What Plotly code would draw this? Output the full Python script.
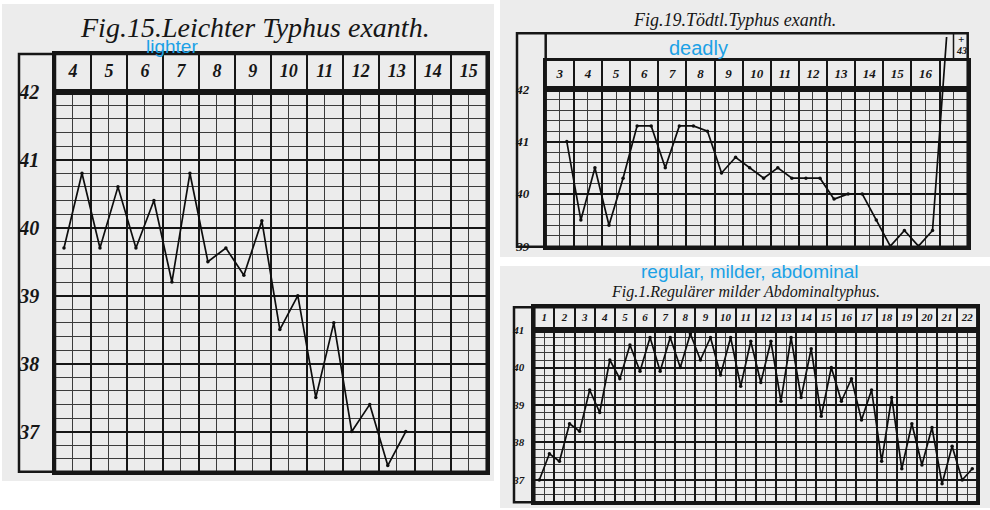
import plotly.graph_objects as go

W, H = 990, 510

# Fig. 15 - mild exanthematic typhus, readings morning/evening from day 4
f15_days = list(range(4, 16))
f15_temps = [39.7, 40.8, 39.7, 40.6, 39.7, 40.4, 39.2, 40.8, 39.5, 39.7,
             39.3, 40.1, 38.5, 39.0, 37.5, 38.6, 37.0, 37.4, 36.5, 37.0]
f15_ticks = [37, 38, 39, 40, 41, 42]

# Fig. 19 - fatal exanthematic typhus, from evening of day 3, ends at 43 (death)
# the grid has one unlabelled column after day 16
f19_days = list(range(3, 17))
f19_temps = [41.0, 39.5, 40.5, 39.4, 40.3, 41.3, 41.3, 40.5, 41.3, 41.3,
             41.2, 40.4, 40.7, 40.5, 40.3, 40.5, 40.3, 40.3, 40.3, 39.9,
             40.0, 40.0, 39.5, 39.0, 39.3, 39.0, 39.3, 43.0]
f19_ticks = [39, 40, 41, 42]

# Fig. 1 - regular mild abdominal typhus, days 1-22
f1_days = list(range(1, 23))
f1_temps = [37.0, 37.7, 37.5, 38.5, 38.3, 39.4, 38.8, 40.2, 39.7, 40.6,
            39.9, 40.8, 39.9, 40.8, 40.0, 40.9, 40.2, 40.8, 39.8, 40.8,
            39.5, 40.7, 39.6, 40.7, 39.1, 40.8, 39.2, 40.5, 38.7, 40.0,
            39.1, 39.7, 38.6, 39.4, 37.5, 39.2, 37.3, 38.5, 37.4, 38.4,
            36.9, 37.9, 37.0, 37.3]
f1_ticks = [37, 38, 39, 40, 41]

INK = "#161616"
MINOR = "#3c3c3c"
PAPER = "#ececec"
BLUE = "#1ba1e6"
SERIF = "Liberation Serif"

fig = go.Figure()
layout = {}
shapes = []
annotations = []


def px(x):
    return x / W


def py(y):
    return 1 - y / H


def add_panel(k, lk, days, temps, first, ticks, box, frame_left, frame_top, head_top,
              yrange, tick_size, day_size, standoff, extra_cols=0):
    left, top, right, bottom = box
    s = "" if k == 1 else str(k)
    h = str(k + 1)
    ln = str(lk)
    xrange_ = [days[0] - 0.5, days[-1] + 0.5 + extra_cols]

    layout["xaxis" + s] = dict(
        domain=[px(left), px(right)], range=xrange_, anchor="y" + s,
        tick0=0.5, dtick=1, showgrid=True, gridcolor=INK, gridwidth=2,
        minor=dict(showgrid=True, tick0=0.5, dtick=0.5, gridcolor=MINOR, gridwidth=1),
        showticklabels=False, ticks="", zeroline=False, automargin=False,
        showline=True, linecolor=INK, linewidth=2.5, mirror=True)
    layout["yaxis" + s] = dict(
        domain=[py(bottom), py(top)], range=yrange, anchor="x" + s,
        tickvals=ticks, showgrid=True, gridcolor=INK, gridwidth=2,
        minor=dict(tickmode="linear", showgrid=True, tick0=0, dtick=0.2,
                   gridcolor=MINOR, gridwidth=1),
        ticks="", ticklabelstandoff=standoff, zeroline=False, automargin=False,
        tickfont=dict(family=SERIF, size=tick_size, color=INK,
                      weight="bold", style="italic"),
        showline=True, linecolor=INK, linewidth=2.5, mirror=True)

    # header row with the day numbers
    layout["xaxis" + h] = dict(
        domain=[px(left), px(right)], range=xrange_, anchor="y" + h,
        matches="x" + s, tick0=0.5, dtick=1, showgrid=True,
        gridcolor=INK, gridwidth=2, showticklabels=False, ticks="",
        zeroline=False, automargin=False,
        showline=True, linecolor=INK, linewidth=2.5, mirror=True)
    layout["yaxis" + h] = dict(
        domain=[py(top), py(head_top)], range=[0, 1], anchor="x" + h,
        showgrid=False, showticklabels=False, ticks="", zeroline=False,
        automargin=False, showline=True, linecolor=INK, linewidth=2.5, mirror=True)

    # hidden axes on the same temperature scale, running up to the frame top,
    # so the curve can leave the grid (Fig. 19 ends at 43)
    ytop = yrange[1] + (top - frame_top) / (bottom - top) * (yrange[1] - yrange[0])
    layout["xaxis" + ln] = dict(
        domain=[px(left), px(right)], range=xrange_, anchor="y" + ln,
        matches="x" + s, visible=False, automargin=False)
    layout["yaxis" + ln] = dict(
        domain=[py(bottom), py(frame_top)], range=[yrange[0], ytop],
        anchor="x" + ln, visible=False, automargin=False)

    fig.add_trace(go.Scatter(
        x=days, y=[0.5] * len(days), text=[str(d) for d in days],
        mode="text", xaxis="x" + h, yaxis="y" + h, hoverinfo="skip",
        textfont=dict(family=SERIF, size=day_size, color=INK,
                      weight="bold", style="italic")))

    xs = [first + 0.5 * i for i in range(len(temps))]
    fig.add_trace(go.Scatter(
        x=xs, y=temps, mode="lines", xaxis="x" + ln, yaxis="y" + ln,
        line=dict(color="#0d0d0d", width=1.7), hoverinfo="skip"))
    fig.add_trace(go.Scatter(
        x=xs, y=temps, mode="markers", xaxis="x" + s, yaxis="y" + s,
        cliponaxis=False, marker=dict(color="#0d0d0d", size=3.5)))

    # outer frame and the label column
    shapes.append(dict(type="rect", xref="paper", yref="paper",
                       x0=px(frame_left), x1=px(right), y0=py(bottom), y1=py(frame_top),
                       line=dict(color=INK, width=2.5)))
    shapes.append(dict(type="line", xref="paper", yref="paper",
                       x0=px(left), x1=px(left), y0=py(bottom), y1=py(frame_top),
                       line=dict(color=INK, width=2.5)))


# scanned paper backgrounds
for x0, y0, x1, y1 in [(2, 4, 494, 481), (500, 0, 990, 257), (500, 266, 990, 508)]:
    shapes.append(dict(type="rect", xref="paper", yref="paper", layer="below",
                       x0=px(x0), x1=px(x1), y0=py(y1), y1=py(y0),
                       fillcolor=PAPER, line=dict(width=0)))

add_panel(1, 7, f15_days, f15_temps, f15_days[0] - 0.25, f15_ticks,
          (55, 91.7, 486.7, 471.7), 19, 54, 54, [36.41, 42], 20, 18, 9)
add_panel(3, 8, f19_days, f19_temps, f19_days[0] + 0.25, f19_ticks,
          (545.7, 89.3, 967.7, 246.7), 517, 33.3, 60.7, [38.99, 42], 13, 13, 11,
          extra_cols=1)
add_panel(5, 9, f1_days, f1_temps, f1_days[0] - 0.25, f1_ticks,
          (534.3, 330, 977.3, 502.3), 514, 307.3, 307.3, [36.405, 41], 11, 11, 5)

# small box around the death mark in Fig. 19
shapes.append(dict(type="line", xref="paper", yref="paper",
                   x0=px(953.5), x1=px(953.5), y0=py(58), y1=py(33.3),
                   line=dict(color=INK, width=1.5)))


def note(text, x, y, size, family=SERIF, color=INK, italic=True, bold=False):
    annotations.append(dict(
        text=text, x=px(x), y=py(y), xref="paper", yref="paper",
        showarrow=False, xanchor="center", yanchor="middle",
        font=dict(family=family, size=size, color=color,
                  style="italic" if italic else "normal",
                  weight="bold" if bold else "normal")))


note("Fig.15.Leichter Typhus exanth.", 255, 27, 28)
note("Fig.19.Tödtl.Typhus exanth.", 734, 20, 18)
note("Fig.1.Regulärer milder Abdominaltyphus.", 745, 292, 16)
note("+", 961, 39, 11, bold=True)
note("43", 961, 51, 10, bold=True)

note("lighter", 172, 46, 19, family="Liberation Sans", color=BLUE, italic=False)
note("deadly", 698, 48, 20, family="Liberation Sans", color=BLUE, italic=False)
note("regular, milder, abdominal", 750, 271, 19, family="Liberation Sans",
     color=BLUE, italic=False)

fig.update_layout(
    width=W, height=H, margin=dict(l=0, r=0, t=0, b=0),
    paper_bgcolor="white", plot_bgcolor="rgba(0,0,0,0)",
    showlegend=False, shapes=shapes, annotations=annotations, **layout)

# the page has the browser's default body margin; drop it so the figure fills the window
fig.write_html("out.html", config={"displayModeBar": False},
               post_script="document.body.style.margin='0';"
                           "document.body.style.overflow='hidden';")
